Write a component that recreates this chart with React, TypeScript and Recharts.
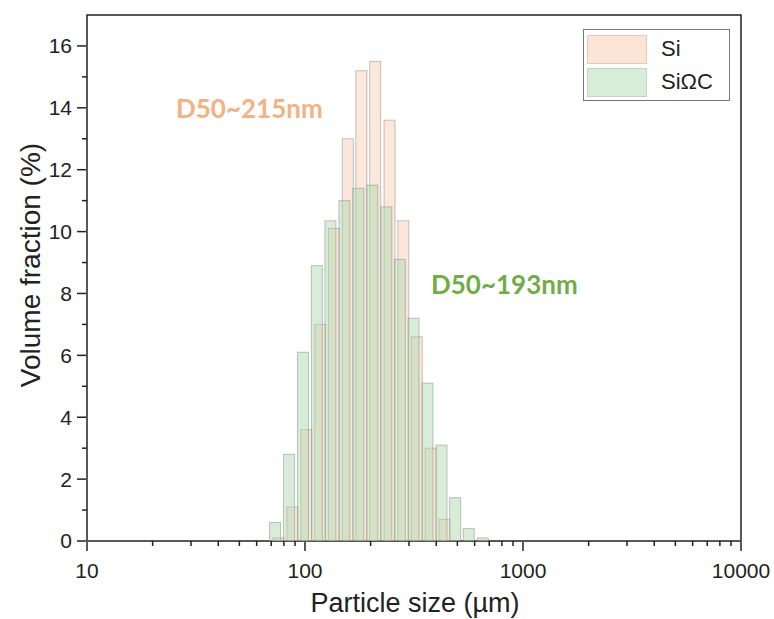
import { ScatterChart, Scatter, XAxis, YAxis, ReferenceArea } from "recharts";

// bin centres (µm) and volume fraction (%)
const siSize = [75.6, 87.6, 101.5, 117.4, 135.7, 157.2, 181.3, 209.9, 244.3, 282.5, 325.8, 377.3, 436.4];
const siFraction = [0.1, 1.1, 3.6, 7.0, 10.1, 13.0, 15.2, 15.5, 13.6, 10.35, 6.6, 3.0, 0.7];

const sicSize = [72.9, 84.5, 97.9, 113.4, 130.8, 151.6, 175.6, 203.6, 236, 272.4, 314.8, 364.8, 422.7, 488.4, 563.6, 653.9];
const sicFraction = [0.6, 2.8, 6.1, 8.9, 10.35, 11.0, 11.4, 11.5, 10.8, 9.1, 7.2, 5.1, 3.1, 1.4, 0.4, 0.1];

const seriesNames = ["Si", "SiΩC"];
const d50Labels = ["D50~215nm", "D50~193nm"];

const xMajorTicks = [10, 100, 1000, 10000];
const xMinorTicks = [20, 30, 40, 50, 60, 70, 80, 90, 200, 300, 400, 500, 600, 700, 800, 900, 2000, 3000, 4000, 5000, 6000, 7000, 8000, 9000];
const yMajorTicks = [0, 2, 4, 6, 8, 10, 12, 14, 16];
const yMinorTicks = [1, 3, 5, 7, 9, 11, 13, 15];

const W = 774;
const H = 619;
const MARGIN = { top: 15, right: 33, bottom: 0, left: 27 };
const X_AXIS_H = 78;
const BASE_Y = H - MARGIN.bottom - X_AXIS_H;
const BAR_W = 11;

// "a" = minor-tick axis that hugs the frame, "b" = labelled major axis
const MINOR = "a";
const MAJOR = "b";

const AXIS = "#222";
const FONT = "'Liberation Sans', Arial, sans-serif";
const NOTE_FONT = "Lato, 'Open Sans', sans-serif";

const siData = siSize.map((size, i) => ({ size, value: siFraction[i] }));
const sicData = sicSize.map((size, i) => ({ size, value: sicFraction[i] }));

const SI_FILL = "#f8cbad";
const SIC_FILL = "#a9d8a9";

const noLabel = () => <g />;

function binBar(fill: string) {
  return (p: any) => {
    const { cx, cy } = p;
    if (cx == null || cy == null) return <g />;
    return (
      <rect
        x={cx - BAR_W / 2}
        y={cy}
        width={BAR_W}
        height={Math.max(0, BASE_Y - cy)}
        fill={fill}
        fillOpacity={0.45}
        stroke="#8a8a8a"
        strokeOpacity={0.5}
        strokeWidth={1}
      />
    );
  };
}

export default function App() {
  const tickStyle = { fill: AXIS, fontSize: 21, fontFamily: FONT };
  const tickLine = { stroke: AXIS, strokeWidth: 1.5 };
  return (
    <div style={{ position: "absolute", left: 0, top: 0, width: W, height: H, background: "#fff" }}>
      <ScatterChart width={W} height={H} margin={MARGIN}>
        <XAxis
          xAxisId={MAJOR}
          type="number"
          dataKey="size"
          scale="log"
          domain={[10, 10000]}
          allowDataOverflow
          ticks={xMajorTicks}
          interval={0}
          tick={tickStyle}
          tickSize={9}
          tickMargin={12}
          axisLine={false}
          tickLine={tickLine}
          height={X_AXIS_H - 1}
        />
        <XAxis
          xAxisId={MINOR}
          type="number"
          dataKey="size"
          scale="log"
          domain={[10, 10000]}
          allowDataOverflow
          ticks={xMinorTicks}
          interval={0}
          tick={noLabel}
          axisLine={false}
          tickSize={5}
          tickLine={tickLine}
          height={1}
        />
        <YAxis
          yAxisId={MAJOR}
          type="number"
          dataKey="value"
          domain={[0, 17]}
          allowDataOverflow
          ticks={yMajorTicks}
          interval={0}
          tick={tickStyle}
          tickSize={9}
          tickMargin={5}
          axisLine={false}
          tickLine={tickLine}
          width={59}
        />
        <YAxis
          yAxisId={MINOR}
          type="number"
          dataKey="value"
          domain={[0, 17]}
          allowDataOverflow
          ticks={yMinorTicks}
          interval={0}
          tick={noLabel}
          axisLine={false}
          tickSize={5}
          tickLine={tickLine}
          width={1}
        />
        <Scatter
          name={seriesNames[0]}
          data={siData}
          xAxisId={MAJOR}
          yAxisId={MAJOR}
          shape={binBar(SI_FILL)}
          isAnimationActive={false}
        />
        <Scatter
          name={seriesNames[1]}
          data={sicData}
          xAxisId={MINOR}
          yAxisId={MINOR}
          shape={binBar(SIC_FILL)}
          isAnimationActive={false}
        />
        <ReferenceArea
          xAxisId={MINOR}
          yAxisId={MINOR}
          x1={10}
          x2={10000}
          y1={0}
          y2={17}
          ifOverflow="visible"
          fill="none"
          fillOpacity={0}
          stroke={AXIS}
          strokeWidth={1.5}
        />
        <text x={176} y={118} fill="#f4b183" fontSize={26} fontWeight={700} fontFamily={NOTE_FONT}>
          {d50Labels[0]}
        </text>
        <text x={431} y={294} fill="#70ad47" fontSize={26} fontWeight={700} fontFamily={NOTE_FONT}>
          {d50Labels[1]}
        </text>
        <text x={415} y={612} textAnchor="middle" fill={AXIS} fontSize={27} fontFamily={FONT}>
          Particle size (µm)
        </text>
        <text
          x={40}
          y={265}
          textAnchor="middle"
          transform="rotate(-90 40 265)"
          fill={AXIS}
          fontSize={28}
          fontFamily={FONT}
        >
          Volume fraction (%)
        </text>
      </ScatterChart>
      <div
        style={{
          position: "absolute",
          left: 583,
          top: 29,
          width: 147,
          height: 72,
          border: "1px solid #777",
          background: "#fff",
          boxSizing: "border-box",
          fontFamily: FONT,
          fontSize: 22,
          color: AXIS,
        }}
      >
        {seriesNames.map((name, i) => (
          <div key={name} style={{ position: "absolute", left: 3, top: 4 + i * 33, height: 30, display: "flex", alignItems: "center" }}>
            <div
              style={{
                width: 60,
                height: 29,
                boxSizing: "border-box",
                background: i === 0 ? "#fce5d6" : "#d8edd8",
                border: `1px solid ${i === 0 ? "#e2cbbb" : "#bfd6bf"}`,
              }}
            />
            <span style={{ marginLeft: 14, lineHeight: "22px" }}>{name}</span>
          </div>
        ))}
      </div>
    </div>
  );
}
